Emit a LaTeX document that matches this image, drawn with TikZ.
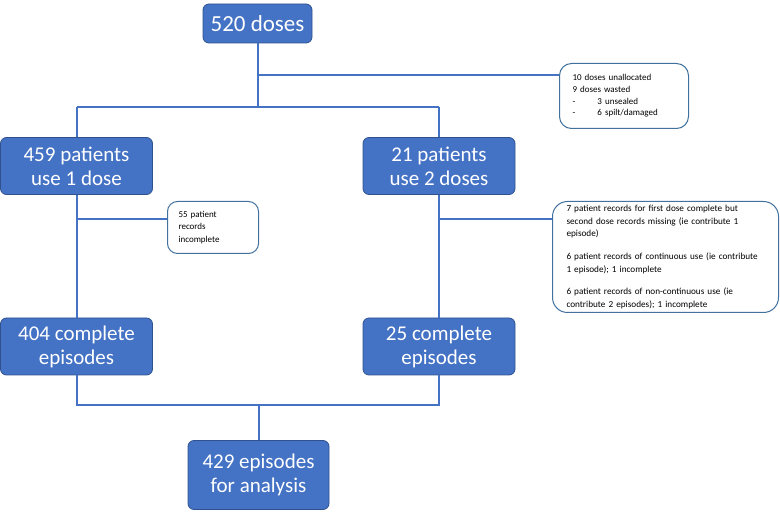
\documentclass[tikz,border=0pt]{standalone}
\usepackage{fontspec}
\setmainfont{Carlito}
\definecolor{boxblue}{HTML}{4472C4}
\definecolor{boxedge}{HTML}{2F528F}
\definecolor{noteedge}{HTML}{41719C}
\begin{document}
\begin{tikzpicture}[x=1pt,y=-1pt,
  bluebox/.style={draw=boxedge, line width=0.8pt, fill=boxblue, rounded corners=6pt,
    text=white, font=\fontsize{21}{24}\selectfont, align=center, inner sep=0pt},
  notebox/.style={draw=noteedge, line width=1pt, fill=white, align=left,
    inner ysep=0pt, anchor=north west},
  link/.style={draw=boxblue, line width=2pt}]
\useasboundingbox (0,0) rectangle (780,513);

% main boxes
\node[bluebox, minimum width=109pt, minimum height=39pt, font=\fontsize{23}{26}\selectfont] (n520) at (257.5,23.5) {520 doses};
\node[bluebox, minimum width=152pt, minimum height=57pt] (n459) at (76.5,166) {459 patients\\use 1 dose};
\node[bluebox, minimum width=152pt, minimum height=57pt] (n21) at (439,166) {21 patients\\use 2 doses};
\node[bluebox, minimum width=152pt, minimum height=57pt] (n404) at (76.5,346.5) {404 complete\\episodes};
\node[bluebox, minimum width=152pt, minimum height=57pt] (n25) at (439,346.5) {25 complete\\episodes};
\node[bluebox, minimum width=141pt, minimum height=69pt] (n429) at (258.5,475) {429 episodes\\for analysis};

% notes
\node[notebox, rounded corners=12pt, minimum width=129pt, minimum height=65pt, inner xsep=13pt,
  text width=103pt, font=\fontsize{9}{11.7}\selectfont] (note1) at (559,63)
  {10 doses unallocated\\9 doses wasted\\\makebox[25pt][l]{-}3 unsealed\\\makebox[25pt][l]{-}6 spilt/damaged};
\node[notebox, rounded corners=10pt, minimum width=91pt, minimum height=52pt, inner xsep=11pt,
  text width=69pt, font=\fontsize{9}{12.5}\selectfont] (note2) at (167,201)
  {55 patient\\records\\incomplete};
\node[notebox, rounded corners=15pt, minimum width=226pt, minimum height=111pt, inner xsep=14pt,
  text width=198pt, font=\fontsize{9.2}{12.6}\selectfont] (note3) at (552,201)
  {7 patient records for first dose complete but\\second dose records missing (ie contribute 1\\episode)\\[10pt]6 patient records of continuous use (ie contribute\\1 episode); 1 incomplete\\[10pt]6 patient records of non-continuous use (ie\\contribute 2 episodes); 1 incomplete};

% junctions
\coordinate (j1) at (257.5,107);
\coordinate (jL) at (76.5,107);
\coordinate (jR) at (439,107);
\coordinate (b1) at (257.5,75);
\coordinate (b2) at (76.5,219);
\coordinate (b3) at (439,219);
\coordinate (kL) at (76.5,405);
\coordinate (kR) at (439,405);
\coordinate (k2) at (258.5,405);

% connectors
\draw[link] (n520) -- (j1);
\draw[link] (jL) -- (jR);
\draw[link] (jL) -- (n459);
\draw[link] (jR) -- (n21);
\draw[link] (b1) -- (b1 -| note1.west);
\draw[link] (n459) -- (n404);
\draw[link] (n21) -- (n25);
\draw[link] (b2) -- (b2 -| note2.west);
\draw[link] (b3) -- (b3 -| note3.west);
\draw[link] (n404) -- (kL) -- (kR) -- (n25);
\draw[link] (k2) -- (n429);
\end{tikzpicture}
\end{document}
